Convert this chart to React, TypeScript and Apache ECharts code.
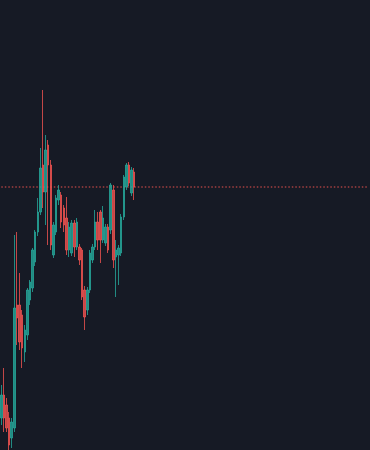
import React, { useEffect, useRef } from "react";
import * as echarts from "echarts";

// Each candle: [open, close, low, high] (price units)
const opens = [32, 55, 45, 32, 12, 22, 145, 145, 135, 98, 115, 150, 162, 188, 218, 238, 285, 258, 305, 285, 195, 218, 250, 255, 242, 232, 200, 197, 227, 203, 203, 200, 160, 140, 160, 190, 203, 228, 238, 210, 207, 223, 220, 260, 193, 195, 197, 233, 263, 285, 257, 278];
const closes = [55, 32, 22, 5, 28, 142, 132, 108, 102, 120, 160, 168, 200, 218, 238, 282, 258, 300, 285, 205, 225, 252, 260, 228, 225, 200, 223, 227, 203, 228, 190, 153, 133, 160, 197, 203, 228, 210, 210, 232, 223, 200, 265, 190, 200, 202, 233, 273, 285, 267, 280, 263];
const lows = [25, 18, 18, 0, 2, 18, 105, 100, 82, 88, 110, 145, 158, 184, 214, 235, 242, 225, 205, 200, 192, 215, 245, 222, 218, 195, 193, 194, 193, 200, 185, 150, 120, 135, 157, 187, 200, 200, 187, 207, 204, 197, 216, 182, 153, 165, 194, 230, 260, 264, 254, 250];
const highs = [65, 82, 52, 38, 32, 215, 218, 177, 140, 125, 162, 170, 202, 220, 252, 302, 360, 315, 310, 290, 228, 255, 265, 258, 245, 253, 228, 230, 230, 232, 206, 202, 164, 163, 200, 206, 240, 238, 240, 244, 226, 226, 267, 265, 210, 205, 236, 275, 287, 288, 283, 282];

const TOTAL_SLOTS = 142;
const UP = "#26a69a";
const DOWN = "#ef5350";

export default function App() {
  const ref = useRef<HTMLDivElement>(null);
  useEffect(() => {
    if (!ref.current) return;
    const chart = echarts.init(ref.current, null, { renderer: "svg" });
    const cats: string[] = [];
    const data: any[] = [];
    const priceLine: number[] = [];
    const lastClose = closes[closes.length - 1];
    for (let i = 0; i < TOTAL_SLOTS; i++) {
      cats.push(String(i));
      if (i < opens.length) data.push([opens[i], closes[i], lows[i], highs[i]]);
      else data.push("-");
      priceLine.push(lastClose);
    }
    chart.setOption({
      animation: false,
      backgroundColor: "#161a25",
      grid: { left: 0, right: 0, top: 0, bottom: 0 },
      xAxis: {
        type: "category",
        data: cats,
        show: false,
        boundaryGap: true,
      },
      yAxis: {
        type: "value",
        min: 0,
        max: 450,
        show: false,
        splitLine: { show: false },
      },
      series: [
        {
          type: "line",
          data: priceLine,
          symbol: "none",
          silent: true,
          z: 1,
          lineStyle: { color: DOWN, type: [1.5, 2], width: 1.5, opacity: 0.65 },
          emphasis: { disabled: true },
        },
        {
          type: "candlestick",
          data,
          barWidth: 2,
          z: 2,
          itemStyle: {
            color: UP,
            color0: DOWN,
            borderColor: UP,
            borderColor0: DOWN,
            borderWidth: 1,
            opacity: 0.8,
          },
        },
      ],
    });
    return () => chart.dispose();
  }, []);
  return (
    <div
      ref={ref}
      style={{ position: "fixed", left: 0, top: 0, width: 370, height: 450 }}
    />
  );
}
